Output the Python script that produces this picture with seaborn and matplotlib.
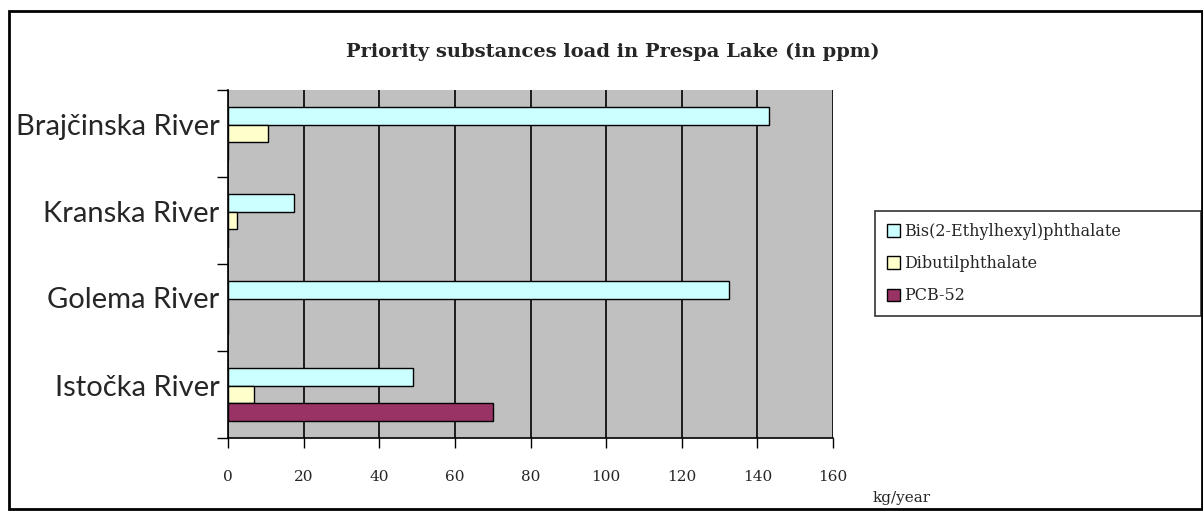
import matplotlib
matplotlib.use("Agg")
import matplotlib.pyplot as plt
import matplotlib.patches as mpatches
import matplotlib.transforms as mtransforms
import seaborn as sns
import pandas as pd

rivers = ["Brajčinska River", "Kranska River", "Golema River", "Istočka River"]
substances = ["Bis(2-Ethylhexyl)phthalate", "Dibutilphthalate", "PCB-52"]
bis_vals = [143, 17.5, 132.5, 49]
dibutil_vals = [10.5, 2.5, 0, 7]
pcb_vals = [0, 0, 0, 70]
x_ticks = [0, 20, 40, 60, 80, 100, 120, 140, 160]
colors = ["#CCFFFF", "#FFFFCC", "#993366"]

rows = []
for sub, vals in zip(substances, [bis_vals, dibutil_vals, pcb_vals]):
    for r, v in zip(rivers, vals):
        rows.append({"river": r, "substance": sub, "value": v})
df = pd.DataFrame(rows)

sns.set_style("white")
serif = ["DejaVu Serif"]

W, H = 1203, 513
fig = plt.figure(figsize=(W / 100, H / 100), dpi=100)
ax = fig.add_axes([228 / W, 1 - 438 / H, (833 - 228) / W, (438 - 90) / H])
ax.set_facecolor("#C0C0C0")

sns.barplot(data=df, y="river", x="value", hue="substance", order=rivers,
            hue_order=substances, palette=colors, orient="h", width=0.62,
            edgecolor="black", linewidth=1, saturation=1, ax=ax, legend=False,
            zorder=3)

ax.set_xlim(0, 160)
ax.set_ylim(3.5, -0.5)
ax.set_xticks(x_ticks)
ax.set_xticklabels([str(t) for t in x_ticks], fontfamily=serif, fontsize=11)
ax.xaxis.grid(True, color="black", linewidth=1.2, zorder=1)
ax.set_axisbelow(True)
ax.tick_params(axis="x", length=7, width=1, color="black", direction="out", pad=16, bottom=True)

ax.set_yticks(range(len(rivers)))
ax.set_yticklabels(rivers, fontfamily=["Lato"], fontsize=21)
ax.tick_params(axis="y", which="major", length=0, pad=6)
shift = mtransforms.ScaledTranslation(0, 7 / 100, fig.dpi_scale_trans)
for lbl in ax.get_yticklabels():
    lbl.set_va("center")
    lbl.set_transform(lbl.get_transform() + shift)
ax.set_yticks([-0.5, 0.5, 1.5, 2.5, 3.5], minor=True)
ax.tick_params(axis="y", which="minor", length=8, width=1, color="black", direction="out", left=True)

ax.set_xlabel("")
ax.set_ylabel("")
for s in ["top", "right"]:
    ax.spines[s].set_visible(False)
ax.spines["left"].set_color("black")
ax.spines["bottom"].set_color("black")
ax.spines["left"].set_linewidth(1.2)
ax.spines["bottom"].set_linewidth(1.2)

fig.text(613 / W, 1 - 52 / H, "Priority substances load in Prespa Lake (in ppm)",
         ha="center", va="center", fontfamily=serif, fontsize=14, fontweight="bold")
fig.text(873 / W, 1 - 498 / H, "kg/year", ha="left", va="center",
         fontfamily=serif, fontsize=11)

handles = [mpatches.Patch(facecolor=c, edgecolor="black", linewidth=1) for c in colors]
leg = fig.legend(handles, substances, loc="upper left",
                 bbox_to_anchor=(875 / W, 1 - 319 / H, (1201 - 875) / W, 108 / H),
                 mode="expand", prop={"family": serif, "size": 11.5},
                 frameon=True, fancybox=False, edgecolor="black",
                 handlelength=0.8, handleheight=0.8, handletextpad=0.3,
                 labelspacing=0.95, borderpad=0.75, borderaxespad=0)
leg.get_frame().set_linewidth(1.2)

frame = mpatches.Rectangle((9 / W, 1 - 509 / H), (1202 - 9) / W, (509 - 11) / H,
                           transform=fig.transFigure, fill=False,
                           edgecolor="black", linewidth=2)
fig.patches.append(frame)

fig.savefig("out.png", dpi=100, facecolor="white")
